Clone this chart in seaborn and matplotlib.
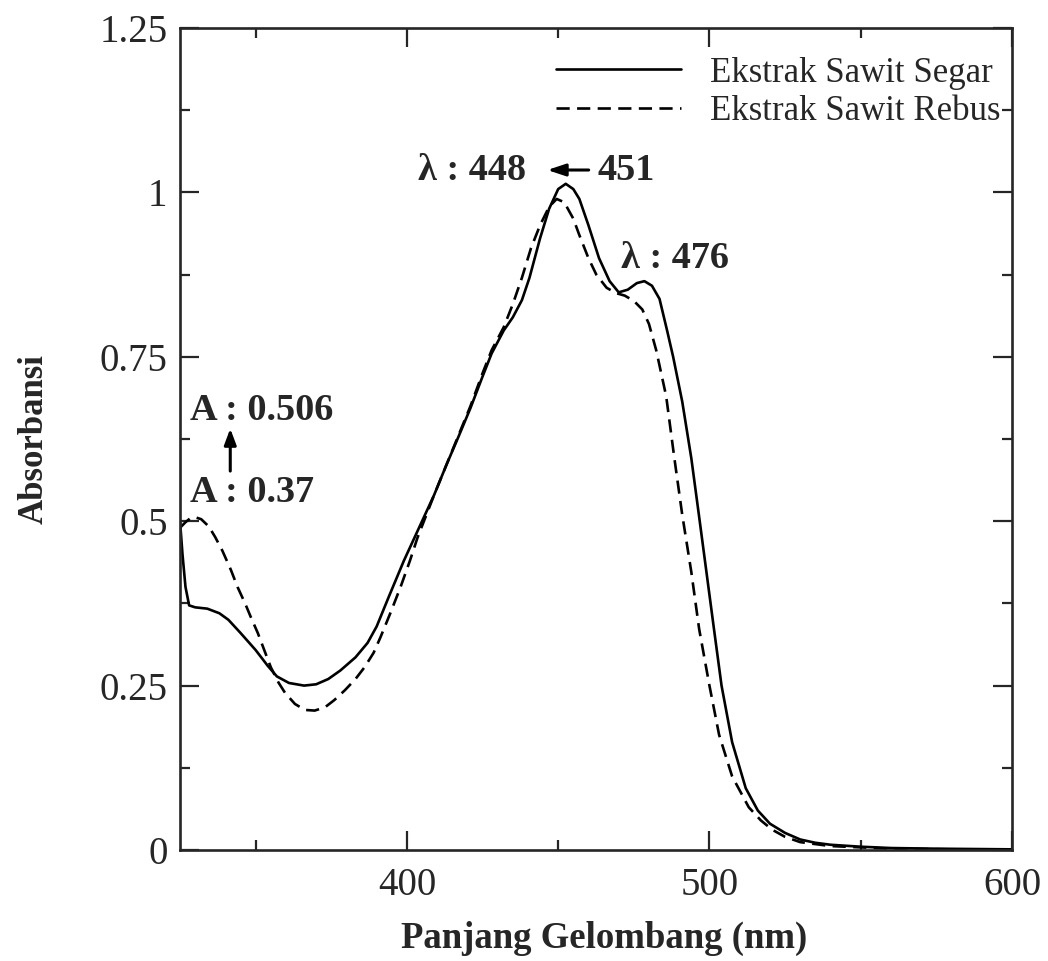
import matplotlib
matplotlib.use("Agg")
import matplotlib.pyplot as plt
from matplotlib.ticker import MultipleLocator, FuncFormatter
import pandas as pd
import seaborn as sns

# Ekstrak Sawit Segar (solid)
wl_segar = [325, 325.8, 326.8, 328, 330, 334, 338, 341, 345, 350, 354, 357, 361, 366, 370,
            374, 378, 383, 387, 390, 394, 399, 404, 409, 413, 417, 421, 425, 428, 432, 435,
            438, 440.5, 444, 447, 450, 452.5, 455, 457, 460, 463.5, 467, 470, 473, 476, 478.5,
            481, 483.5, 486, 488, 491, 494, 496.5, 499, 501.5, 504, 507.5, 512, 516, 520, 525,
            530, 535, 540, 550, 560, 575, 600]
abs_segar = [0.50, 0.45, 0.40, 0.372, 0.369, 0.367, 0.36, 0.35, 0.33, 0.304, 0.28, 0.264, 0.254,
             0.25, 0.252, 0.26, 0.273, 0.293, 0.315, 0.34, 0.385, 0.44, 0.49, 0.54, 0.585, 0.628,
             0.672, 0.72, 0.755, 0.79, 0.81, 0.836, 0.87, 0.93, 0.975, 1.005, 1.013, 1.005, 0.99,
             0.95, 0.9, 0.865, 0.848, 0.852, 0.862, 0.865, 0.858, 0.838, 0.79, 0.75, 0.682, 0.596,
             0.51, 0.423, 0.336, 0.25, 0.164, 0.094, 0.06, 0.04, 0.026, 0.016, 0.011, 0.008, 0.005,
             0.003, 0.002, 0.001]

# Ekstrak Sawit Rebus (dashed)
wl_rebus = [325, 326.7, 328.5, 330, 332, 334.5, 336.6, 339, 341.8, 344, 346.5, 348.5, 350.7, 353,
            355, 357.5, 359.7, 363, 366.3, 369.5, 372.9, 376, 379.5, 383, 386, 389, 391.3, 394.5,
            397.9, 401, 403.5, 409, 413, 417, 421, 425, 428, 432, 435, 438, 441, 444, 447, 449.5,
            452, 455, 457, 460, 462.6, 466, 469, 472, 475, 477.8, 480, 482.4, 485.7, 488.4, 491,
            494, 496.6, 500, 503.2, 507.5, 513, 517, 520.7, 525, 530, 540, 550, 560, 600]
abs_rebus = [0.49, 0.498, 0.505, 0.506, 0.503, 0.492, 0.476, 0.455, 0.426, 0.40, 0.375, 0.353, 0.33,
             0.302, 0.278, 0.255, 0.239, 0.222, 0.213, 0.212, 0.217, 0.228, 0.243, 0.26, 0.278, 0.3,
             0.324, 0.36, 0.40, 0.44, 0.475, 0.54, 0.585, 0.63, 0.675, 0.725, 0.76, 0.795, 0.83,
             0.87, 0.915, 0.95, 0.978, 0.99, 0.985, 0.96, 0.935, 0.9, 0.875, 0.855, 0.847, 0.843,
             0.835, 0.822, 0.80, 0.76, 0.69, 0.596, 0.51, 0.423, 0.336, 0.25, 0.175, 0.112, 0.065,
             0.045, 0.031, 0.02, 0.012, 0.006, 0.004, 0.002, 0.0]

labels = ["Ekstrak Sawit Segar", "Ekstrak Sawit Rebus"]

sns.set_theme(style="ticks")
plt.rcParams['font.family'] = ['Liberation Serif', 'DejaVu Serif']

fig = plt.figure(figsize=(10.48, 9.61), dpi=100)
ax = fig.add_axes([0.1718, 0.1155, 0.7938, 0.8554])

df_segar = pd.DataFrame({"wl": wl_segar, "abs": abs_segar})
df_rebus = pd.DataFrame({"wl": wl_rebus, "abs": abs_rebus})
sns.lineplot(data=df_segar, x="wl", y="abs", ax=ax, color="black", lw=1.9, label=labels[0])
sns.lineplot(data=df_rebus, x="wl", y="abs", ax=ax, color="black", lw=1.9,
             linestyle=(0, (5, 2.8)), label=labels[1])

ax.set_xlim(325, 600)
ax.set_ylim(0, 1.25)
ax.xaxis.set_major_locator(MultipleLocator(100))
ax.xaxis.set_minor_locator(MultipleLocator(50))
ax.yaxis.set_major_locator(MultipleLocator(0.25))
ax.yaxis.set_minor_locator(MultipleLocator(0.125))
ax.yaxis.set_major_formatter(FuncFormatter(lambda v, p: f"{v:g}"))
ax.tick_params(which="both", direction="in", top=True, right=True, width=1.6, labelsize=28)
ax.tick_params(which="major", length=14)
ax.tick_params(axis="y", which="major", pad=9)
ax.tick_params(axis="x", which="major", pad=12)
ax.tick_params(which="minor", length=7)
for s in ax.spines.values():
    s.set_linewidth(1.9)

ax.set_xlabel("Panjang Gelombang (nm)", fontsize=26.5, fontweight="bold")
ax.set_ylabel("Absorbansi", fontsize=25, fontweight="bold")
ax.xaxis.set_label_coords(0.51, -0.086)
ax.yaxis.set_label_coords(-0.155, 0.5)

# legend without frame
ax.legend(loc="upper right", frameon=False, fontsize=25, handlelength=3.6, handletextpad=0.85,
          labelspacing=0.15, bbox_to_anchor=(1.003, 0.982), borderaxespad=0)

# annotations
bold = dict(fontsize=27.5, fontweight="bold", va="center", ha="left")
ax.text(328.3, 0.669, "A : 0.506", **bold)
ax.text(328.3, 0.543, "A : 0.37", **bold)
ax.annotate("", xy=(341.6, 0.645), xytext=(341.6, 0.572),
            arrowprops=dict(arrowstyle="-|>,head_length=0.8,head_width=0.3", color="black", lw=2.2))
ax.text(403.5, 1.034, "λ : 448", **bold)
ax.annotate("", xy=(445.5, 1.034), xytext=(461, 1.034),
            arrowprops=dict(arrowstyle="-|>,head_length=0.9,head_width=0.3", color="black", lw=2.2))
ax.text(463, 1.034, "451", **bold)
ax.text(470.9, 0.9, "λ : 476", **bold)

plt.savefig("out.png", dpi=100)
plt.close()
